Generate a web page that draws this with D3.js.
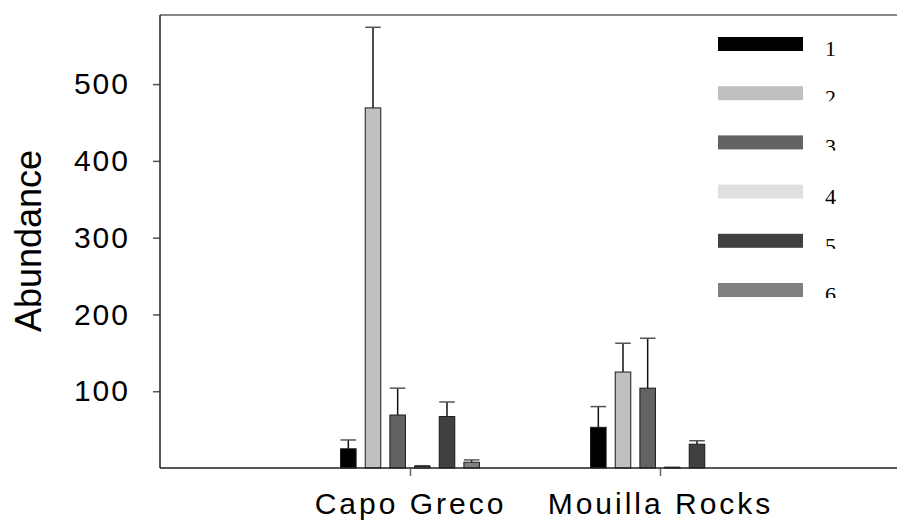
<!DOCTYPE html>
<html>
<head>
<meta charset="utf-8">
<script src="https://cdn.jsdelivr.net/npm/d3@7"></script>
<style>
	body { margin: 0; background: #fff; }
	svg { display: block; font-family: 'Liberation Sans', Arial, sans-serif; }
</style>
</head>
<body>
<div id="chart"></div>
<script>
// Data
let sites = ['Capo Greco', 'Mouilla Rocks'];
let groups = ['1', '2', '3', '4', '5', '6'];
let meanCapo = [25, 469, 69, 2, 67, 7.5];
let errCapo = [36.5, 574, 104, 3, 86, 10.5];
let meanMouilla = [53, 125, 104, 0.8, 31, 0];
let errMouilla = [80, 162.5, 169, 0.8, 35.5, 0];
let yTicks = [100, 200, 300, 400, 500];

let palette = ['#000000', '#c0c0c0', '#636363', '#e0e0e0', '#404040', '#808080'];

let width = 897;
let height = 526;
let plotLeft = 160, plotTop = 15, plotBottom = 468, plotRight = 910;

let svg = d3.select('#chart')
	.append('svg')
	.attr('width', width)
	.attr('height', height);

let rows = [
	{site: sites[0], means: meanCapo, errs: errCapo},
	{site: sites[1], means: meanMouilla, errs: errMouilla}
];

let x = d3.scalePoint()
	.domain(sites)
	.range([plotLeft, plotRight])
	.padding(1);

let inner = d3.scaleBand()
	.domain(groups)
	.range([-74, 74])
	.paddingInner(0.37)
	.paddingOuter(0.185);

let y = d3.scaleLinear()
	.domain([0, 590])
	.range([plotBottom, plotTop]);

// frame
svg.append('line')
	.attr('x1', plotLeft).attr('x2', width)
	.attr('y1', plotTop).attr('y2', plotTop)
	.attr('stroke', '#888').attr('stroke-width', 2);

// y axis
let yAxis = svg.append('g')
	.attr('transform', 'translate(' + plotLeft + ',0)')
	.call(d3.axisLeft(y).tickValues(yTicks).tickSize(7).tickPadding(23).tickSizeOuter(0));
yAxis.select('.domain').remove();
yAxis.selectAll('.tick line').attr('stroke', '#555').attr('stroke-width', 1.5);
yAxis.selectAll('.tick text')
	.attr('font-size', 30)
	.attr('letter-spacing', 2)
	.attr('fill', '#000')
	.attr('font-family', "'Liberation Sans', Arial, sans-serif");

svg.append('line')
	.attr('x1', plotLeft).attr('x2', plotLeft)
	.attr('y1', plotTop).attr('y2', plotBottom)
	.attr('stroke', '#222').attr('stroke-width', 1.5);

// x axis
let xAxis = svg.append('g')
	.attr('transform', 'translate(0,' + plotBottom + ')')
	.call(d3.axisBottom(x).tickSize(8).tickPadding(17).tickSizeOuter(0));
xAxis.select('.domain').remove();
xAxis.selectAll('.tick line').attr('stroke', '#666').attr('stroke-width', 1.5);
xAxis.selectAll('.tick text')
	.attr('font-size', 30)
	.attr('letter-spacing', 3)
	.attr('fill', '#000')
	.attr('font-family', "'Liberation Sans', Arial, sans-serif");

// bars
let bars = svg.append('g').attr('id', 'bars');
rows.forEach(function(r){
	let g = bars.append('g')
		.attr('transform', 'translate(' + x(r.site) + ',0)');
	let items = groups.map(function(k, i){
		return {k: k, i: i, mean: r.means[i], err: r.errs[i]};
	}).filter(function(d){ return d.mean > 0; });

	g.selectAll('line.err')
		.data(items)
		.enter()
		.append('line')
		.attr('class', 'err')
		.attr('x1', function(d){ return inner(d.k) + inner.bandwidth() / 2; })
		.attr('x2', function(d){ return inner(d.k) + inner.bandwidth() / 2; })
		.attr('y1', function(d){ return y(d.mean); })
		.attr('y2', function(d){ return y(d.err); })
		.attr('stroke', '#111')
		.attr('stroke-width', 1.5);

	g.selectAll('line.cap')
		.data(items)
		.enter()
		.append('line')
		.attr('class', 'cap')
		.attr('x1', function(d){ return inner(d.k); })
		.attr('x2', function(d){ return inner(d.k) + inner.bandwidth(); })
		.attr('y1', function(d){ return y(d.err); })
		.attr('y2', function(d){ return y(d.err); })
		.attr('stroke', '#555')
		.attr('stroke-width', 1.5);

	g.selectAll('rect')
		.data(items)
		.enter()
		.append('rect')
		.attr('x', function(d){ return inner(d.k); })
		.attr('y', function(d){ return y(d.mean); })
		.attr('width', inner.bandwidth())
		.attr('height', function(d){ return y(0) - y(d.mean); })
		.attr('fill', function(d){ return palette[d.i]; })
		.attr('stroke', '#1a1a1a')
		.attr('stroke-width', 1);
});

svg.append('line')
	.attr('x1', plotLeft).attr('x2', width)
	.attr('y1', plotBottom).attr('y2', plotBottom)
	.attr('stroke', '#222').attr('stroke-width', 1.5);

// y title
svg.append('text')
	.text('Abundance')
	.attr('transform', 'translate(41,241) rotate(-90)')
	.attr('text-anchor', 'middle')
	.attr('font-size', 36)
	.attr('fill', '#000');

// legend
let legendY = d3.scalePoint()
	.domain(groups)
	.range([37, 283]);

let defs = svg.append('defs');
let legend = svg.append('g').attr('id', 'legend');
groups.forEach(function(k, i){
	let ly = legendY(k);
	let clipped = (i !== 0 && i !== 3);
	legend.append('rect')
		.attr('x', 718)
		.attr('y', ly)
		.attr('width', 85)
		.attr('height', 14)
		.attr('fill', palette[i]);
	if(clipped){
		defs.append('clipPath')
			.attr('id', 'clip-' + k)
			.append('rect')
			.attr('x', 815).attr('y', ly - 10)
			.attr('width', 40).attr('height', 25);
	}
	let t = legend.append('text')
		.text(k)
		.attr('x', 825)
		.attr('y', ly + 19)
		.attr('font-size', 22)
		.attr('font-family', "'Liberation Serif', 'Times New Roman', serif")
		.attr('fill', '#000');
	if(clipped){
		t.attr('clip-path', 'url(#clip-' + k + ')');
	}
});
</script>
</body>
</html>
